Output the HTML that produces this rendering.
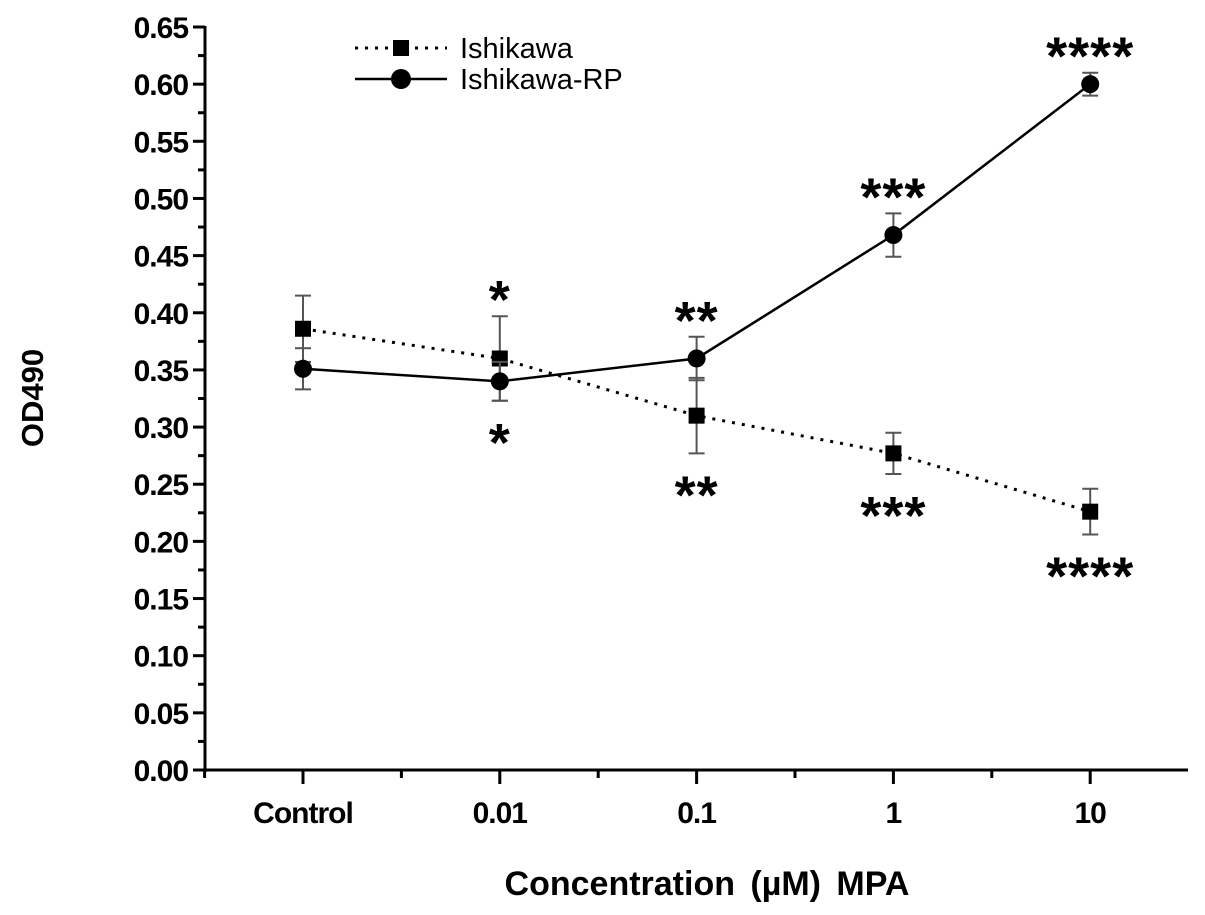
<!DOCTYPE html>
<html><head><meta charset="utf-8"><style>
body{margin:0;background:#fff;}
svg{display:block;font-family:"Liberation Sans",Arial,sans-serif;}
</style></head><body>
<svg id="chart" width="1205" height="915" viewBox="0 0 1205 915"></svg>
<script>
const categories = ["Control","0.01","0.1","1","10"];
const ishikawa = [0.386,0.360,0.310,0.277,0.226];
const ishikawaErr = [0.029,0.037,0.033,0.018,0.020];
const ishikawaRP = [0.351,0.340,0.360,0.468,0.600];
const ishikawaRPErr = [0.018,0.017,0.019,0.019,0.010];
const stars = ["","*","**","***","****"];
const yTicks = [0,0.05,0.10,0.15,0.20,0.25,0.30,0.35,0.40,0.45,0.50,0.55,0.60,0.65];

const NS="http://www.w3.org/2000/svg";
const svg=document.getElementById('chart');
const X0=205, X1=1188, Y0=770, YTOP=27;
const yS=v=>Y0-(v/0.65)*(Y0-YTOP);
const xS=i=>303+i*196.8;
function mk(tag,attrs,parent){const e=document.createElementNS(NS,tag);for(const k in attrs)e.setAttribute(k,attrs[k]);(parent||svg).appendChild(e);return e;}

const ax=mk('g',{});


mk('line',{x1:X0,y1:YTOP-1,x2:X0,y2:Y0+2,stroke:'#000','stroke-width':3},ax);
mk('line',{x1:X0-1,y1:Y0,x2:X1,y2:Y0,stroke:'#000','stroke-width':3},ax);
yTicks.forEach((v,i)=>{
  const y=yS(v);
  mk('line',{x1:X0-12,y1:y,x2:X0,y2:y,stroke:'#000','stroke-width':3},ax);
  if(i<yTicks.length-1){const ym=yS(v+0.025);mk('line',{x1:X0-7,y1:ym,x2:X0,y2:ym,stroke:'#000','stroke-width':3},ax);}
  const t=mk('text',{x:X0-17,y:y+11,'text-anchor':'end','font-size':30,'font-weight':'bold','letter-spacing':'-1'},ax);
  t.textContent=v.toFixed(2);
  
  
});
categories.forEach((c,i)=>{
  const x=xS(i);
  mk('line',{x1:x,y1:Y0,x2:x,y2:Y0+14,stroke:'#000','stroke-width':3},ax);
  const xm=x+98.4; if(xm<X1) mk('line',{x1:xm,y1:Y0,x2:xm,y2:Y0+8,stroke:'#000','stroke-width':3},ax);
  if(i===0) mk('line',{x1:x-98.4,y1:Y0,x2:x-98.4,y2:Y0+8,stroke:'#000','stroke-width':3},ax);
  const t=mk('text',{x:x,y:823,'text-anchor':'middle','font-size':30,'font-weight':'bold','letter-spacing':'-1'},ax);
  t.textContent=c;
  
  
});
const xt=mk('text',{x:707,y:895,'text-anchor':'middle','font-size':34,'font-weight':'bold','word-spacing':'6'});
xt.textContent='Concentration (\u00b5M) MPA';


const yt=mk('text',{x:0,y:0,'text-anchor':'middle','font-size':31,'font-weight':'bold',transform:'translate(43,398) rotate(-90)'});
yt.textContent='OD490';



function series(vals,errs,dash,marker,name){
  const g=mk('g',{});
  
  
  vals.forEach((v,i)=>{
    const x=xS(i),yt=yS(v+errs[i]),yb=yS(v-errs[i]);
    mk('line',{x1:x,y1:yt,x2:x,y2:yb,stroke:'#555','stroke-width':2},g);
    mk('line',{x1:x-8,y1:yt,x2:x+8,y2:yt,stroke:'#555','stroke-width':2},g);
    mk('line',{x1:x-8,y1:yb,x2:x+8,y2:yb,stroke:'#555','stroke-width':2},g);
  });
  const pts=vals.map((v,i)=>xS(i)+','+yS(v)).join(' ');
  const l=mk('polyline',{points:pts,fill:'none',stroke:'#000','stroke-width':dash?3:2.5,'stroke-dasharray':dash?'3,7':'none'},g);
  
  
  vals.forEach((v,i)=>{
    const x=xS(i),y=yS(v);
    let m;
    if(marker==='sq') m=mk('rect',{x:x-8,y:y-8,width:16,height:16,fill:'#000'},g);
    else m=mk('circle',{cx:x,cy:y,r:9,fill:'#000'},g);
    
    
  });
}
series(ishikawa,ishikawaErr,true,'sq','ishikawa-series');
series(ishikawaRP,ishikawaRPErr,false,'ci','ishikawa-rp-series');

stars.forEach((s,i)=>{
  if(!s) return;
  const top=Math.min(yS(ishikawa[i]+ishikawaErr[i]),yS(ishikawaRP[i]+ishikawaRPErr[i]));
  const bot=Math.max(yS(ishikawa[i]-ishikawaErr[i]),yS(ishikawaRP[i]-ishikawaRPErr[i]));
  const a=mk('text',{x:xS(i),y:top-28+30,'text-anchor':'middle','font-size':54,'font-weight':'bold','letter-spacing':'1'});
  a.textContent=s;
  
  
  const b=mk('text',{x:xS(i),y:bot+30+30,'text-anchor':'middle','font-size':54,'font-weight':'bold','letter-spacing':'1'});
  b.textContent=s;
  
  
});

const lg=mk('g',{});


mk('line',{x1:355,y1:48,x2:447,y2:48,stroke:'#000','stroke-width':3,'stroke-dasharray':'3,7'},lg);
mk('rect',{x:393,y:40,width:16,height:16,fill:'#000'},lg);
const l1=mk('text',{x:460,y:58,'font-size':29},lg);l1.textContent='Ishikawa';


mk('line',{x1:355,y1:79,x2:447,y2:79,stroke:'#000','stroke-width':2.5},lg);
mk('circle',{cx:401,cy:79,r:10,fill:'#000'},lg);
const l2=mk('text',{x:460,y:89,'font-size':29},lg);l2.textContent='Ishikawa-RP';


</script>
</body></html>
